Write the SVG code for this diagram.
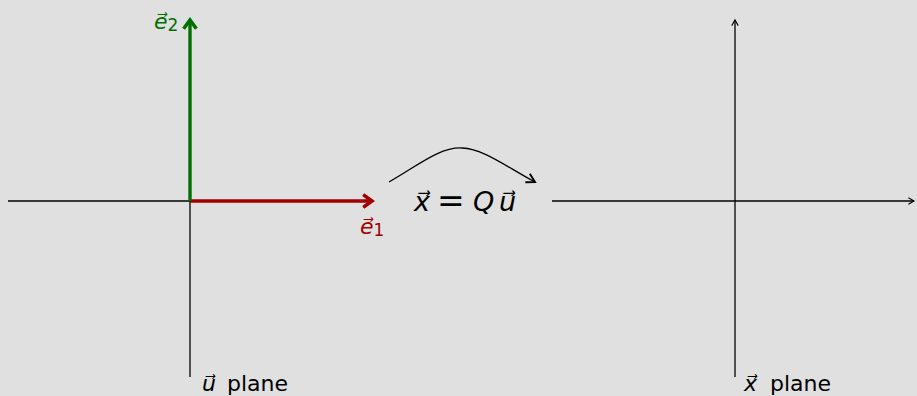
<svg xmlns="http://www.w3.org/2000/svg" width="917" height="396" viewBox="0 0 917 396">
<defs>
<style>
.ax{stroke:#000;stroke-width:1.3;fill:none}
.t{font-family:"DejaVu Sans","Liberation Sans",sans-serif}
.m{font-family:"DejaVu Sans","Liberation Sans",sans-serif;font-style:italic}
</style>
<marker id="ah" viewBox="0 0 10 10" refX="8" refY="5" markerWidth="8" markerHeight="8" markerUnits="userSpaceOnUse" orient="auto">
<path d="M1,1 L8,5 L1,9" fill="none" stroke="#000" stroke-width="1.4"/>
</marker>
<marker id="ahc" viewBox="0 0 10 10" refX="8" refY="5" markerWidth="12" markerHeight="12" markerUnits="userSpaceOnUse" orient="auto">
<path d="M1,1 L8,5 L1,9" fill="none" stroke="#000" stroke-width="1.6"/>
</marker>
<marker id="ar" viewBox="0 0 10 10" refX="7" refY="5" markerWidth="16" markerHeight="16" markerUnits="userSpaceOnUse" orient="auto">
<path d="M1.5,1 L7,5 L1.5,9" fill="none" stroke="#a00000" stroke-width="2.2"/>
</marker>
<marker id="ag" viewBox="0 0 10 10" refX="7" refY="5" markerWidth="16" markerHeight="16" markerUnits="userSpaceOnUse" orient="auto">
<path d="M1.5,1 L7,5 L1.5,9" fill="none" stroke="#007000" stroke-width="2.2"/>
</marker>
</defs>
<rect width="917" height="396" fill="#e0e0e0"/>
<g id="connectors">
<line class="ax" x1="8" y1="201" x2="372" y2="201"/>
<line class="ax" x1="190" y1="377" x2="190" y2="22"/>
<line class="ax" x1="552" y1="201" x2="914" y2="201" marker-end="url(#ah)"/>
<line class="ax" x1="735" y1="377" x2="735" y2="20" marker-end="url(#ah)"/>
<path class="ax" d="M389,182 C420,164 440,147 462,148 C484,149 505,166 535,182" stroke-width="1.8" marker-end="url(#ahc)"/>
</g>
<g id="e1">
<line x1="190" y1="201" x2="372" y2="201" stroke="#a00000" stroke-width="3.4" marker-end="url(#ar)"/>
<text class="m" x="360" y="234" font-size="22" fill="#a00000">e⃗<tspan font-style="normal" font-size="17" dy="2">1</tspan></text>
</g>
<g id="e2">
<line x1="190" y1="201" x2="190" y2="20" stroke="#007000" stroke-width="3.4" marker-end="url(#ag)"/>
<text class="m" x="154" y="29" font-size="22" fill="#007000">e⃗<tspan font-style="normal" font-size="17" dy="2">2</tspan></text>
</g>
<g id="map">
<text class="m" y="211" font-size="27"><tspan x="414">x⃗</tspan><tspan x="437" font-style="normal" font-size="33" dy="1">=</tspan><tspan x="473" dy="-1">Q</tspan><tspan x="499">u⃗</tspan></text>
</g>
<g id="uplane">
<text class="t" y="391" font-size="22"><tspan class="m" x="202">u⃗</tspan><tspan x="227">plane</tspan></text>
</g>
<g id="xplane">
<text class="t" y="391" font-size="22"><tspan class="m" x="744">x⃗</tspan><tspan x="770">plane</tspan></text>
</g>
</svg>
